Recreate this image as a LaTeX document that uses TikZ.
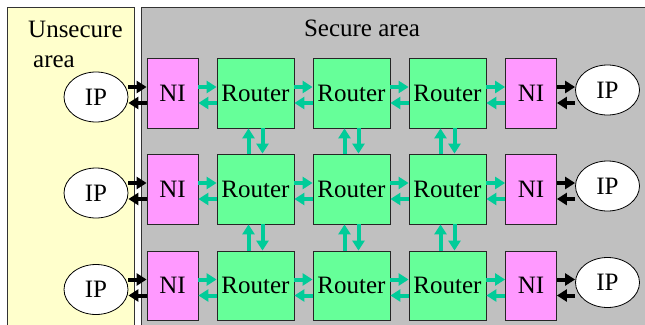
\documentclass[tikz,border=0pt]{standalone}
\usepackage{fontspec}
\setmainfont{Liberation Serif}
\newfontfamily\diafont{Liberation Serif}
\usetikzlibrary{arrows.meta,shapes.geometric}
\definecolor{unsec}{HTML}{FFFFCC}
\definecolor{secgray}{HTML}{C0C0C0}
\definecolor{nicol}{HTML}{FF99FF}
\definecolor{routercol}{HTML}{66FF99}
\definecolor{linkcol}{HTML}{00CC99}
\begin{document}
\begin{tikzpicture}[x=1pt,y=-1pt,
  font=\diafont\fontsize{25}{30}\selectfont,
  area/.style={draw=black!80,line width=0.8pt},
  nibox/.style={draw=black!85,line width=0.8pt,fill=nicol,minimum width=51pt,minimum height=70pt,inner sep=0pt},
  routerbox/.style={draw=black!85,line width=0.8pt,fill=routercol,minimum width=77pt,minimum height=70pt,inner sep=0pt},
  ipnode/.style={draw=black,line width=0.8pt,fill=white,ellipse,minimum width=64pt,minimum height=50pt,inner sep=0pt},
  glink/.style={draw=linkcol,line width=4pt,-{Triangle[length=10pt,width=12pt]}},
  blink/.style={draw=black,line width=4pt,-{Triangle[length=10pt,width=12pt]}}
]
\useasboundingbox (0,0) rectangle (645,324);
\clip (0,0) rectangle (645,324);
\fill[white] (0,0) rectangle (645,324);
\draw[area,fill=unsec] (7,7) rectangle (134,340);
\draw[area,fill=secgray] (141,7) rectangle (660,340);
\node[anchor=base west,inner sep=0pt] (unsec1) at (28,37) {Unsecure};
\node[anchor=base west,inner sep=0pt] (unsec2) at (33,67) {area};
\node[anchor=base,inner sep=0pt] (sec) at (362,36) {Secure area};

\foreach \r/\y/\h in {1/93/70,2/189/70,3/285.5/69}{
  \node[nibox,minimum height=\h pt] (nil\r) at (172.5,\y) {NI};
  \node[routerbox,minimum height=\h pt] (ra\r) at (255.5,\y) {Router};
  \node[routerbox,minimum height=\h pt] (rb\r) at (351.5,\y) {Router};
  \node[routerbox,minimum height=\h pt] (rc\r) at (447.5,\y) {Router};
  \node[nibox,minimum height=\h pt] (nir\r) at (531,\y) {NI};
  \node[ipnode] (ipl\r) at (96,\y+4) {IP};
  \node[ipnode] (ipr\r) at (607.5,\y-3) {IP};
  % black links
  \draw[blink] ([yshift=6pt]nil\r.west -| ipl\r.east) -- ([yshift=6pt]nil\r.west);
  \draw[blink] ([yshift=-10pt]nil\r.west) -- ([yshift=-10pt]nil\r.west -| ipl\r.east);
  \draw[blink] ([yshift=6pt]nir\r.east) -- ([yshift=6pt]nir\r.east -| ipr\r.west);
  \draw[blink] ([yshift=-10pt]nir\r.east -| ipr\r.west) -- ([yshift=-10pt]nir\r.east);
  % green links
  \draw[glink] ([yshift=6pt]nil\r.east) -- ([yshift=6pt]ra\r.west);
  \draw[glink] ([yshift=-10pt]ra\r.west) -- ([yshift=-10pt]nil\r.east);
  \draw[glink] ([yshift=6pt]ra\r.east) -- ([yshift=6pt]rb\r.west);
  \draw[glink] ([yshift=-10pt]rb\r.west) -- ([yshift=-10pt]ra\r.east);
  \draw[glink] ([yshift=6pt]rb\r.east) -- ([yshift=6pt]rc\r.west);
  \draw[glink] ([yshift=-10pt]rc\r.west) -- ([yshift=-10pt]rb\r.east);
  \draw[glink] ([yshift=6pt]rc\r.east) -- ([yshift=6pt]nir\r.west);
  \draw[glink] ([yshift=-10pt]nir\r.west) -- ([yshift=-10pt]rc\r.east);
}
\foreach \c in {ra,rb,rc}{
  \foreach \a/\b in {1/2,2/3}{
    \draw[glink] ([xshift=-7pt]\c\b.north) -- ([xshift=-7pt]\c\a.south);
    \draw[glink] ([xshift=7pt]\c\a.south) -- ([xshift=7pt]\c\b.north);
  }
}
\end{tikzpicture}
\end{document}
